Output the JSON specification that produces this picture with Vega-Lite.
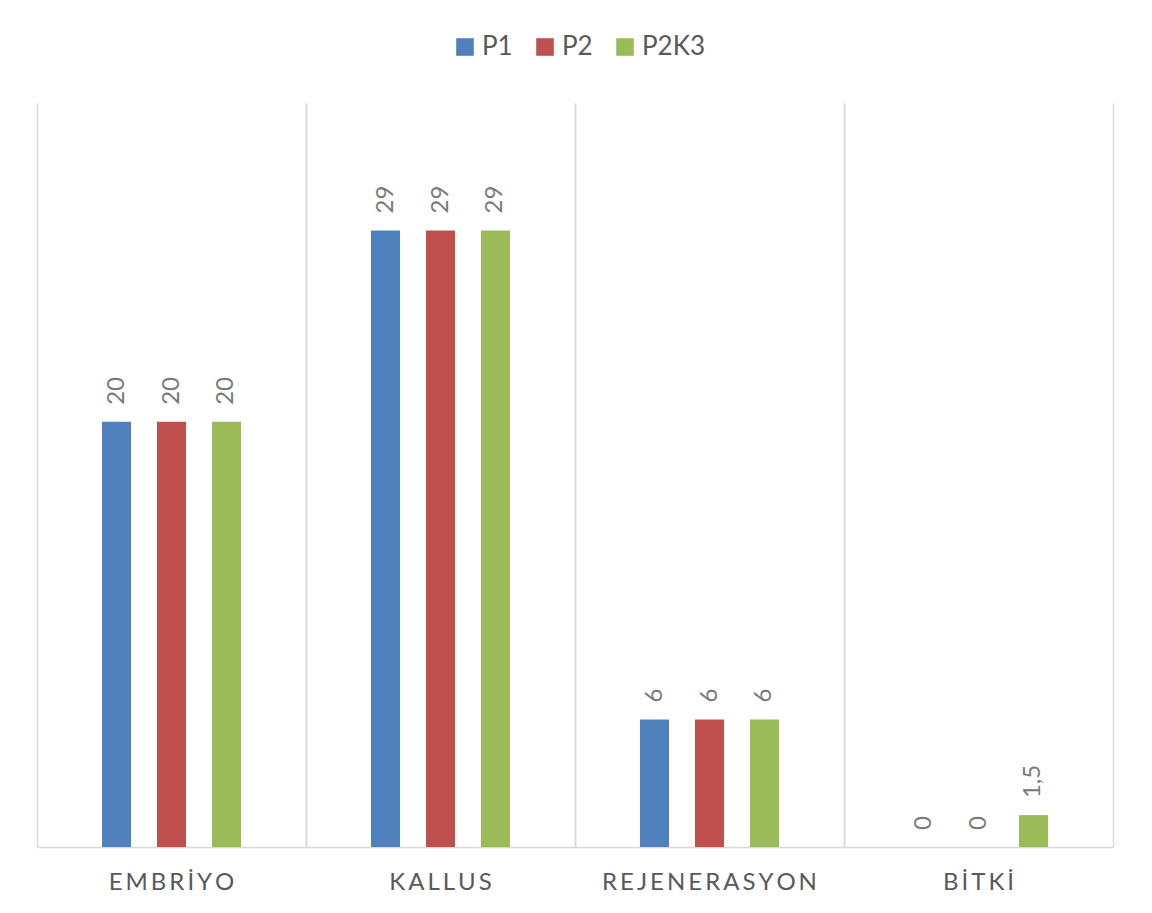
{
  "$schema": "https://vega.github.io/schema/vega-lite/v6.json",
  "width": 1076,
  "height": 744,
  "autosize": {"type": "none"},
  "padding": {"left": 37, "top": 103, "right": 39, "bottom": 66},
  "background": "white",
  "config": {
    "view": {"stroke": null},
    "font": "Lato",
    "locale": {"number": {"decimal": ",", "thousands": ".", "grouping": [3], "currency": ["", ""]}}
  },
  "data": {
    "values": [
      {"category": "EMBRİYO", "series": "P1", "value": 20},
      {"category": "EMBRİYO", "series": "P2", "value": 20},
      {"category": "EMBRİYO", "series": "P2K3", "value": 20},
      {"category": "KALLUS", "series": "P1", "value": 29},
      {"category": "KALLUS", "series": "P2", "value": 29},
      {"category": "KALLUS", "series": "P2K3", "value": 29},
      {"category": "REJENERASYON", "series": "P1", "value": 6},
      {"category": "REJENERASYON", "series": "P2", "value": 6},
      {"category": "REJENERASYON", "series": "P2K3", "value": 6},
      {"category": "BİTKİ", "series": "P1", "value": 0},
      {"category": "BİTKİ", "series": "P2", "value": 0},
      {"category": "BİTKİ", "series": "P2K3", "value": 1.5}
    ]
  },
  "layer": [
    {
      "mark": {"type": "bar", "width": 29},
      "encoding": {
        "x": {
          "field": "category", "type": "nominal",
          "sort": ["EMBRİYO", "KALLUS", "REJENERASYON", "BİTKİ"],
          "scale": {"paddingInner": 0, "paddingOuter": 0},
          "axis": {
            "title": null, "orient": "bottom",
            "grid": true, "bandPosition": 0, "gridColor": "#d9d9d9", "gridWidth": 1.5,
            "domain": true, "domainColor": "#d9d9d9", "domainWidth": 1.5,
            "ticks": false, "tickSize": 0,
            "labelAngle": 0, "labelFont": "Lato", "labelFontSize": 24, "labelColor": "#595959",
            "labelPadding": 23, "labelBaseline": "top", "labelLimit": 0,
            "labelExpr": "join(split(datum.label, ''), '\u2009')"
          }
        },
        "xOffset": {
          "field": "series", "type": "nominal", "sort": ["P1", "P2", "P2K3"],
          "scale": {"paddingInner": 0.109, "paddingOuter": 1}
        },
        "y": {
          "field": "value", "type": "quantitative",
          "scale": {"domain": [0, 35], "nice": false, "zero": true},
          "axis": null
        },
        "color": {
          "field": "series", "type": "nominal", "sort": ["P1", "P2", "P2K3"],
          "scale": {"domain": ["P1", "P2", "P2K3"], "range": ["#4F81BD", "#C0504D", "#9BBB59"]},
          "legend": {
            "title": null, "orient": "none", "direction": "horizontal",
            "legendX": 415, "legendY": -69,
            "padding": 0,
            "symbolType": "square", "symbolSize": 310, "symbolStrokeWidth": 0,
            "labelFont": "Lato", "labelFontSize": 26, "labelColor": "#595959",
            "labelOffset": 4, "columnPadding": 19
          }
        }
      }
    },
    {
      "mark": {
        "type": "text", "angle": -90, "align": "left", "baseline": "middle",
        "dx": 17, "font": "Lato", "fontSize": 24, "color": "#7a7a7a"
      },
      "encoding": {
        "x": {
          "field": "category", "type": "nominal",
          "sort": ["EMBRİYO", "KALLUS", "REJENERASYON", "BİTKİ"],
          "scale": {"paddingInner": 0, "paddingOuter": 0},
          "axis": {
            "title": null, "orient": "top",
            "grid": true, "bandPosition": 1, "gridColor": "#d9d9d9", "gridWidth": 1.5,
            "domain": false, "ticks": false, "labels": false
          }
        },
        "xOffset": {
          "field": "series", "type": "nominal", "sort": ["P1", "P2", "P2K3"],
          "scale": {"paddingInner": 0.109, "paddingOuter": 1}
        },
        "y": {"field": "value", "type": "quantitative"},
        "text": {"field": "value", "type": "quantitative", "format": "~g"}
      }
    }
  ],
  "resolve": {"axis": {"x": "independent"}}
}
